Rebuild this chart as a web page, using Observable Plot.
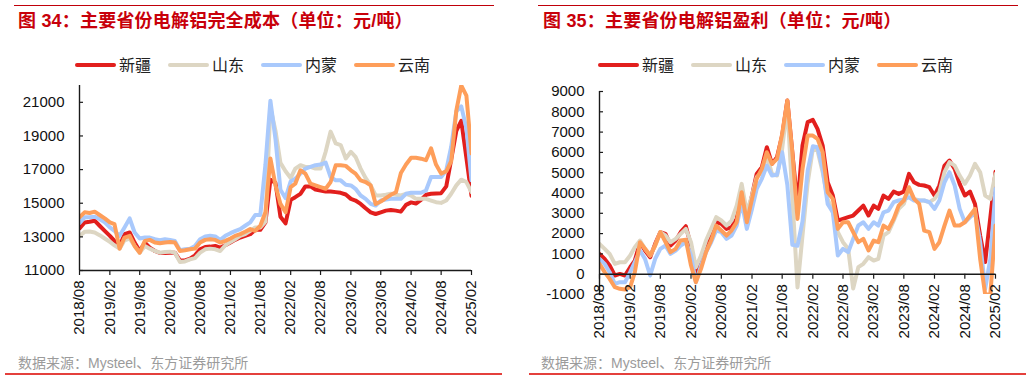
<!DOCTYPE html>
<html><head><meta charset="utf-8">
<script src="https://cdn.jsdelivr.net/npm/d3@7"></script>
<script src="https://cdn.jsdelivr.net/npm/@observablehq/plot@0.6"></script>
<style>
body{margin:0;background:#fff;}
#wrap{position:relative;width:1032px;height:380px;overflow:hidden;font-family:"Liberation Sans","Noto Sans CJK SC",sans-serif;}
.abs{position:absolute;}
.title{color:#c8000a;font-weight:bold;font-size:18px;letter-spacing:0.2px;line-height:20px;white-space:nowrap;font-family:"Liberation Sans","Noto Sans CJK SC",sans-serif;}
.rtop{height:1px;background:#c0000a;}
.rbot{height:1.5px;background:#e4403c;}
.cap{color:#9b9b9b;font-size:14px;line-height:18px;white-space:nowrap;}
.leg{font-size:16px;line-height:20px;color:#222;white-space:nowrap;font-family:"Noto Sans CJK SC",sans-serif;}
.sw{height:4px;border-radius:2px;}
</style></head>
<body>
<div id="wrap"></div>
<script>
// ---------- data ----------
const series = ["新疆", "山东", "内蒙", "云南"];
const colors = ["#e21f1d", "#ddd6c3", "#a9c9fc", "#fe9e5a"];
const xTickLabels = ["2018/08","2019/02","2019/08","2020/02","2020/08","2021/02","2021/08","2022/02","2022/08","2023/02","2023/08","2024/02","2024/08","2025/02"];
const costYTicks = [11000, 13000, 15000, 17000, 19000, 21000];
const profitYTicks = [-1000, 0, 1000, 2000, 3000, 4000, 5000, 6000, 7000, 8000, 9000];
const titles = ["图 34：主要省份电解铝完全成本（单位：元/吨）", "图 35：主要省份电解铝盈利（单位：元/吨）"];
const source = "数据来源：Mysteel、东方证券研究所";

// 完全成本 (monthly, 2018/08 - 2025/02)
const cost_xj = [13500,13860,13900,13960,13660,13360,13060,12760,12460,13160,13260,12660,12160,12660,12360,12160,12040,12040,12060,12060,
 11600,11600,11700,11900,12260,12400,12420,12460,12360,12500,12660,12820,12960,13060,13160,13420,13420,13860,16400,16200,
 14200,13800,15200,15360,15560,16000,16000,15820,15760,15700,15700,15660,15620,15520,15260,15160,14960,14700,14460,14360,
 14460,14560,14600,14560,14500,14900,15050,14980,15200,15500,15560,15580,15600,16000,17600,19300,19900,17700,15450];
const cost_sd = [13060,13300,13320,13260,13100,12900,12700,12500,12300,12800,12900,12460,12060,12460,12300,12160,12060,12100,12120,12060,
 11500,11540,11660,11740,12060,12260,12300,12260,12160,12500,12700,12860,13060,13160,13360,13560,13560,13900,20700,19300,
 17400,16900,16500,17060,17260,17160,17160,17060,17060,18060,19260,18560,18460,17660,18060,17760,17060,16500,16060,15460,
 15460,15500,15560,15500,15460,15560,15460,15260,15260,15260,15160,15060,15020,15160,15560,16060,16400,16260,15660];
const cost_nm = [13820,14160,14160,14200,14060,13860,13560,13360,13060,13560,14100,13260,12900,12960,12960,12860,12800,12860,12820,12760,
 12200,12260,12300,12460,12860,13020,13060,13020,12820,13060,13220,13340,13460,13660,13860,14300,14300,17300,21100,18800,
 15800,15300,16300,16460,16760,17060,17160,17260,17300,17420,16560,16360,16360,16100,16060,15860,15460,15260,14960,14860,
 15160,15220,15260,15260,15260,15560,15620,15620,15620,15760,16560,16560,16560,16960,18360,20460,20760,19460,16360];
const cost_yn = [14160,14460,14420,14500,14300,14100,13860,13760,12300,12960,13060,12460,12060,12760,12820,12660,12620,12660,12700,12660,
 12160,12200,12260,12300,12660,12820,12860,12820,12660,12760,12900,13060,13160,13300,13460,13360,13660,14460,17660,16060,
 14960,14460,15960,16160,16960,16760,16160,16060,15960,15860,16260,17260,17260,17220,16960,16760,16360,16260,16060,14950,
 15100,15300,15500,15650,16800,17300,17700,17700,17650,17560,18260,17300,16760,16900,17500,20500,22000,21400,17960];

// 盈利
const profit_xj = [1000,755,430,-65,15,-65,345,673,1576,1166,837,1494,2070,1990,1412,1658,2070,2365,1400,-30,
 755,1412,2070,2561,2480,2233,2315,2725,4200,2725,3875,4940,5270,6256,5435,5763,6830,8555,6000,3400,
 6340,7490,7600,7160,6340,4530,3875,2640,2725,2808,2890,3136,3380,2890,3380,3218,3875,3710,4070,3957,
 4070,4940,4530,4400,4370,4285,3875,4367,5350,5600,5190,4450,3875,4070,3460,1905,600,2800,5050];
const profit_sd = [1494,1250,1000,510,590,590,920,1330,1658,1250,920,1412,2070,1905,1576,1740,1987,2233,1576,345,
 920,1658,2233,2808,2643,2397,2643,3380,4450,3050,3875,4780,5025,5845,4940,4860,6175,8310,3800,-650,
 1900,4500,6175,6090,5025,3710,3050,2070,1576,1250,-700,345,510,837,673,755,1905,2070,2640,3218,
 3465,4200,3710,3630,3630,3550,3710,4040,5025,5520,5350,4860,4450,4860,5435,5025,3875,3710,4940];
const profit_nm = [755,510,100,-476,-395,-395,100,590,1166,755,-65,755,1250,1412,1000,1166,1412,1576,920,-395,
 427,1084,1576,2150,2070,1740,1905,2397,3547,2233,3218,4200,4700,5350,4860,4900,6010,4400,1450,1400,
 2600,5100,6300,6250,5190,3465,3050,920,1250,1084,1740,2397,2560,2233,2560,2397,3050,3136,3547,3630,
 3680,3790,3630,3630,3630,3550,3218,3630,4530,5025,4370,3218,2560,2808,3050,1576,-720,755,4200];
const profit_yn = [510,100,-230,-640,-720,-755,-640,100,1576,1250,920,1412,2070,1576,1084,1250,1658,1700,427,-395,
 263,1084,1658,2397,2150,1905,2150,2560,4040,2560,3710,4700,5190,6010,5435,5680,6910,8555,6010,2725,
 5190,6830,6830,6666,6010,4040,3710,2233,2560,2560,2070,1576,1740,1166,1658,1576,2397,2233,2725,3380,
 3630,4285,3710,3465,2150,2070,1250,1576,2397,3136,2397,2397,2560,2890,3218,755,-1000,-1000,2400];

// ---------- build ----------
const months = d3.utcMonths(new Date(Date.UTC(2018, 7, 1)), new Date(Date.UTC(2025, 2, 1)));
const parseTick = d3.utcParse("%Y/%m");
const xTickDates = xTickLabels.map(parseTick);

function rowsOf(arrs) {
  const rows = [];
  arrs.forEach((arr, k) => arr.forEach((v, i) => rows.push({date: months[i], value: v, series: series[k]})));
  return rows;
}

function makeChart({rows, yDomain, yTicks, xAxisY, width, height, marginLeft, marginRight, marginTop, marginBottom}) {
  const x0 = months[0], x1 = months[months.length - 1];
  const axisColor = "#1a1a1a";
  return Plot.plot({
    width, height, marginLeft, marginRight, marginTop, marginBottom,
    x: {type: "utc", domain: [x0, x1], axis: null},
    y: {domain: yDomain, axis: null},
    style: {fontFamily: "'Liberation Sans', Arial, sans-serif", fontSize: "15px", background: "transparent", overflow: "visible", color: "#111"},
    marks: [
      ...series.map((s, k) => Plot.line(rows.filter(r => r.series === s), {
        x: "date", y: "value", stroke: colors[k], strokeWidth: 4, strokeLinejoin: "round", strokeLinecap: "round", clip: true
      })),
      Plot.ruleX([0], {x: () => x0, y1: () => yDomain[0], y2: () => yDomain[1], stroke: axisColor, strokeWidth: 1.4}),
      Plot.ruleY([0], {y: () => xAxisY, x1: () => x0, x2: () => x1, stroke: axisColor, strokeWidth: 1.4}),
      Plot.ruleY(yTicks, {y: d => d, x1: () => x0, x2: () => x0, insetRight: -4, stroke: axisColor, strokeWidth: 1.2}),
      Plot.ruleX(xTickDates, {x: d => d, y1: () => xAxisY, y2: () => xAxisY, insetBottom: -5, stroke: axisColor, strokeWidth: 1.2}),
      Plot.text(yTicks, {x: () => x0, y: d => d, text: d => String(d), textAnchor: "end", dx: -15, fontSize: 15, fill: "#111"}),
      Plot.text(xTickDates, {x: d => d, y: () => xAxisY, text: (d, i) => xTickLabels[i], rotate: -90, textAnchor: "end", dy: 10, fontSize: 15, fill: "#111"})
    ]
  });
}

const wrap = document.getElementById("wrap");
function addDiv(cls, style, text) {
  const d = document.createElement("div");
  d.className = "abs " + cls;
  Object.assign(d.style, style);
  if (text != null) d.textContent = text;
  wrap.appendChild(d);
  return d;
}

// panel geometry
const panels = [
  {left: 0, ruleTop: [14, 480], ruleBot: [5, 497], titleX: 18, legX: 75, capX: 18,
   chart: {rows: rowsOf([cost_xj, cost_sd, cost_nm, cost_yn]), yDomain: [11000, 22000], yTicks: costYTicks, xAxisY: 11000,
           width: 500, height: 270, marginLeft: 79, marginRight: 29, marginTop: 5, marginBottom: 80}},
  {left: 516, ruleTop: [538, 480], ruleBot: [529, 497], titleX: 543, legX: 598, capX: 541,
   chart: {rows: rowsOf([profit_xj, profit_sd, profit_nm, profit_yn]), yDomain: [-1000, 9000], yTicks: profitYTicks, xAxisY: 0,
           width: 510, height: 270, marginLeft: 83, marginRight: 31, marginTop: 11, marginBottom: 56}}
];

panels.forEach((p, idx) => {
  addDiv("rtop", {left: p.ruleTop[0] + "px", top: "5px", width: p.ruleTop[1] + "px"});
  addDiv("title", {left: p.titleX + "px", top: "11px"}, titles[idx]);
  series.forEach((s, k) => {
    const x = p.legX + k * 93;
    addDiv("sw", {left: x + "px", top: "63px", width: "41px", background: colors[k]});
    addDiv("leg", {left: (x + 44) + "px", top: "54px"}, s);
  });
  const holder = addDiv("", {left: p.left + "px", top: "80px"});
  holder.appendChild(makeChart(p.chart));
  addDiv("cap", {left: p.capX + "px", top: "354px"}, source);
  addDiv("rbot", {left: p.ruleBot[0] + "px", top: "373px", width: p.ruleBot[1] + "px"});
});
</script>
</body></html>
